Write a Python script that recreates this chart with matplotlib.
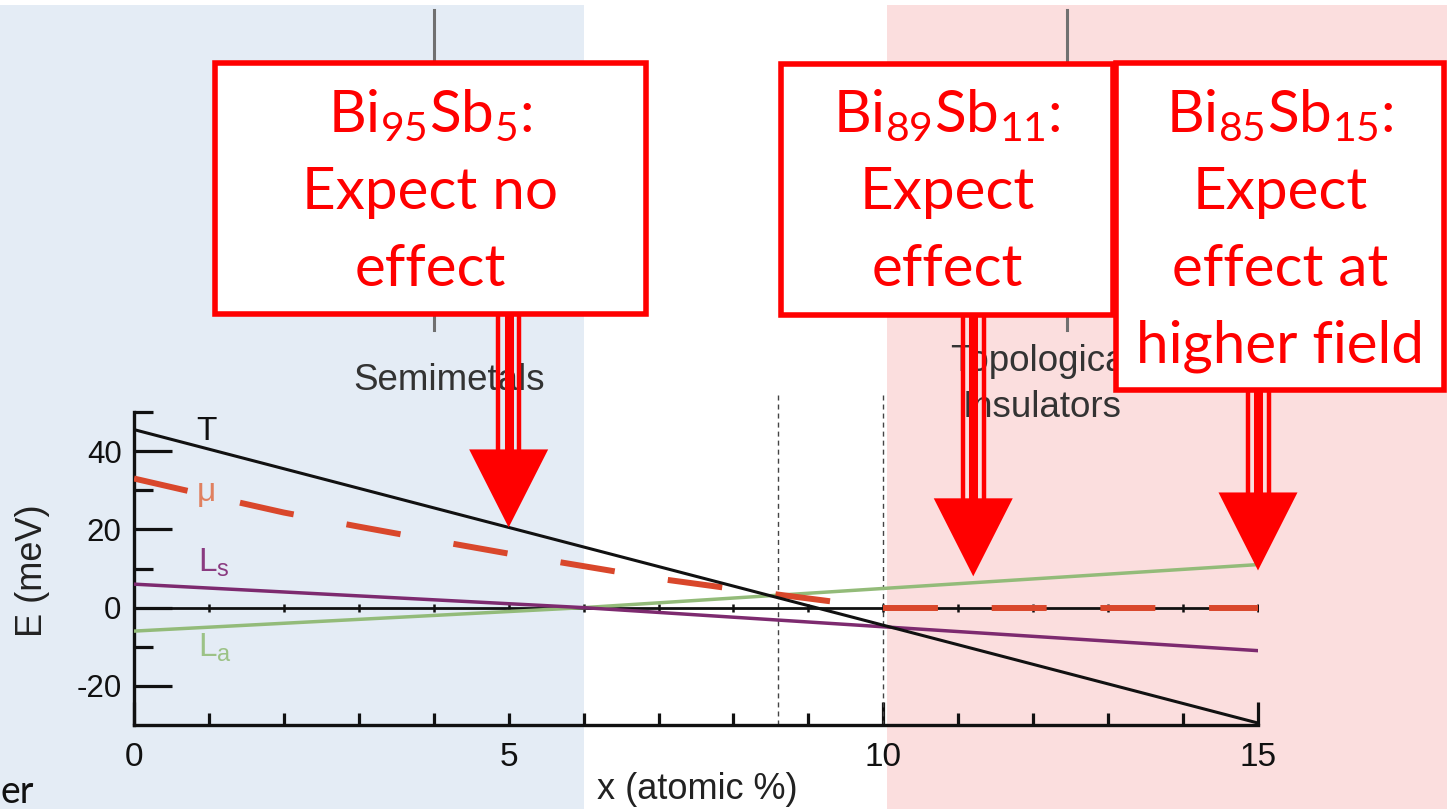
import matplotlib
matplotlib.use("Agg")
import matplotlib.pyplot as plt
import numpy as np
from matplotlib.patches import Rectangle, Polygon
from matplotlib.transforms import blended_transform_factory

plt.rcParams["font.family"] = ["Liberation Sans", "DejaVu Sans"]

W, H = 1447, 809

# ---- band energies of Bi(1-x)Sb(x) versus Sb content x (atomic %) ----
x_T = [0, 15]
E_T = [45.5, -29.5]

x_mu_semimetal = [0, 1, 2, 3, 4, 5, 6, 7, 8, 9.3]
E_mu_semimetal = [33.0, 28.6, 24.3, 20.7, 17.2, 13.8, 10.6, 7.4, 4.8, 1.6]
x_mu_insulator = [10, 15]
E_mu_insulator = [0, 0]

x_L = [0, 3, 6, 10, 15]
E_Ls = [6.0, 3.0, 0.0, -4.9, -11.0]
E_La = [-6.0, -3.0, 0.0, 4.9, 11.0]

x_ticks = [0, 5, 10, 15]
x_tick_labels = ["0", "5", "10", "15"]
x_minor = [1, 2, 3, 4, 6, 7, 8, 9, 11, 12, 13, 14]
y_ticks = [-20, 0, 20, 40]
y_tick_labels = ["-20", "0", "20", "40"]
y_minor = [-10, 10, 30, 50]
zero_line_ticks = list(range(0, 16))

transitions = [8.6, 10]
semimetal_edge = 6
insulator_edge = 10.05
header_marks = [4.0, 12.45]

# ---- callouts: composition label lines and the x / E the arrow points to ----
callout_lines = [
    [r"$\mathregular{Bi_{95}Sb_{5}}$:", "Expect no", "effect"],
    [r"$\mathregular{Bi_{89}Sb_{11}}$:", "Expect", "effect"],
    [r"$\mathregular{Bi_{85}Sb_{15}}$:", "Expect", "effect at", "higher field"],
]
arrow_x = [5, 11.2, 15]
arrow_E = [20.5, 8.0, 9.5]

# colours
C_T = "#111111"
C_MU = "#d9472b"
C_LS = "#7d2a6f"
C_LA = "#93bb79"
RED = "#ff0000"
BLUE_BG = "#e4ecf5"
PINK_BG = "#fbdede"

fig = plt.figure(figsize=(W / 100, H / 100), dpi=100)
fig.patch.set_facecolor("white")

ax = fig.add_axes([134 / W, (H - 725) / H, (1258 - 134) / W, (725 - 412) / H], zorder=1)
ax.set_facecolor("none")
ax.set_xlim(0, 15)
ax.set_ylim(-30, 50)

# background regions (semimetal / topological insulator), spanning the slide height
bt = blended_transform_factory(ax.transData, fig.transFigure)
ax.add_patch(Rectangle((-5, 0), semimetal_edge + 5, 0.994, transform=bt,
                       facecolor=BLUE_BG, edgecolor="none", zorder=0, clip_on=False))
ax.add_patch(Rectangle((insulator_edge, 0), 10, 0.994, transform=bt,
                       facecolor=PINK_BG, edgecolor="none", zorder=0, clip_on=False))

# spines and ticks
for s in ("top", "right"):
    ax.spines[s].set_visible(False)
for s in ("left", "bottom"):
    ax.spines[s].set_linewidth(2.4)
    ax.spines[s].set_color("#111111")

ax.set_xticks(x_ticks)
ax.set_xticklabels(x_tick_labels)
ax.set_xticks(x_minor, minor=True)
ax.set_yticks(y_ticks)
ax.set_yticklabels(y_tick_labels)
ax.set_yticks(y_minor, minor=True)
ax.tick_params(axis="x", which="major", direction="in", length=16.5, width=2.3,
               labelsize=24, pad=12, colors="#111111")
ax.tick_params(axis="x", which="minor", direction="in", length=8.6, width=2.3, colors="#111111")
ax.tick_params(axis="y", which="major", direction="in", length=27, width=2.3,
               labelsize=22.5, pad=9, colors="#111111")
ax.tick_params(axis="y", which="minor", direction="in", length=13.7, width=2.3, colors="#111111")
ax.xaxis.get_major_ticks()[1].tick1line.set_markersize(8.6)

ax.set_xlabel("x (atomic %)", fontsize=26, color="#222222")
ax.xaxis.set_label_coords(0.501, -0.205)
ax.xaxis.label.set_va("center")
ax.set_ylabel("E (meV)", fontsize=26, color="#222222")
ax.yaxis.set_label_coords(-0.0899, 0.492)
ax.yaxis.label.set_va("center")

# zero-energy line with small ticks
ax.axhline(0, color="#111111", lw=2.0, zorder=3)
ax.plot(zero_line_ticks, np.zeros(len(zero_line_ticks)), ls="none", marker="|",
        ms=6, mew=1.8, color="#111111", zorder=3)

# phase-boundary markers
for xt in transitions:
    ax.plot([xt, xt], [-30, 54.3], color="#444444", lw=1.0,
            ls=(0, (3.6, 2.9)), clip_on=False, zorder=2)

# bands
ax.plot(x_L, E_La, color=C_LA, lw=2.5, zorder=4)
ax.plot(x_L, E_Ls, color=C_LS, lw=2.5, zorder=4)
ax.plot(x_mu_semimetal, E_mu_semimetal, color=C_MU, lw=4.3, dashes=(9.2, 9.0),
        dash_capstyle="butt", zorder=5)
ax.plot(x_mu_insulator, E_mu_insulator, color=C_MU, lw=4.3, dashes=(9.2, 9.0),
        dash_capstyle="butt", zorder=5)
ax.plot(x_T, E_T, color=C_T, lw=2.2, zorder=6)

# band labels
ax.text(0.97, 45.0, "T", fontsize=24, color=C_T, ha="center", va="center")
ax.text(0.97, 29.5, "\u03bc", fontsize=24, color="#e0805f", ha="center", va="center")
ax.text(0.85, 11.5, r"$\mathregular{L_s}$", fontsize=24, color="#8a3a80", ha="left", va="center")
ax.text(0.85, -10.3, r"$\mathregular{L_a}$", fontsize=24, color="#9cc286", ha="left", va="center")

# upper panel remnants: region names and marks
for xm in header_marks:
    ax.plot([xm, xm], [71, 152.7], color="#707070", lw=2.2, clip_on=False, zorder=2)
ax.text(4.2, 55.6, "Semimetals", fontsize=26.5, color="#333333", ha="center", va="baseline")
ax.text(12.12, 60.6, "Topological", fontsize=26.5, color="#333333", ha="center", va="baseline")
ax.text(12.12, 48.6, "Insulators", fontsize=26.5, color="#333333", ha="center", va="baseline")

# ---- overlay in slide pixel coordinates for the callouts ----
ov = fig.add_axes([0, 0, 1, 1], zorder=3)
ov.set_xlim(0, W)
ov.set_ylim(H, 0)
ov.axis("off")
ov.patch.set_alpha(0)

boxes = [(215, 62.5, 645.5, 313.5), (781, 64, 1113, 314.5), (1116, 62.5, 1444, 389.5)]
baselines = [132, 209, 286, 362]

for k, (x0, y0, x1, y1) in enumerate(boxes):
    # arrow from the box bottom to the marked point
    tx, ty = ov.transData.inverted().transform(ax.transData.transform((arrow_x[k], arrow_E[k])))
    head_h, head_w = 78, 79
    base = ty - head_h
    ov.add_patch(Polygon([(tx - head_w / 2, base), (tx + head_w / 2, base), (tx, ty)],
                         closed=True, facecolor=RED, edgecolor="none", zorder=1))
    ov.plot([tx, tx], [y1, base + 1], color=RED, lw=6.5, solid_capstyle="butt", zorder=1)
    for off in (-10.5, 10.5):
        ov.plot([tx + off, tx + off], [y1, base + 1], color=RED, lw=3.2,
                solid_capstyle="butt", zorder=1)

    ov.add_patch(Rectangle((x0, y0), x1 - x0, y1 - y0, facecolor="white",
                           edgecolor=RED, lw=4.0, joinstyle="miter", zorder=2 + k))
    cx = (x0 + x1) / 2
    for j, line in enumerate(callout_lines[k]):
        ov.text(cx, baselines[j], line, fontsize=42, family=["Lato", "DejaVu Sans"],
                color=RED, ha="center", va="baseline", zorder=2 + k)

ov.text(1, 803, "er", fontsize=27, family=["Lato", "DejaVu Sans"], color="#111111",
        ha="left", va="baseline")

fig.savefig("out.png", dpi=100)
